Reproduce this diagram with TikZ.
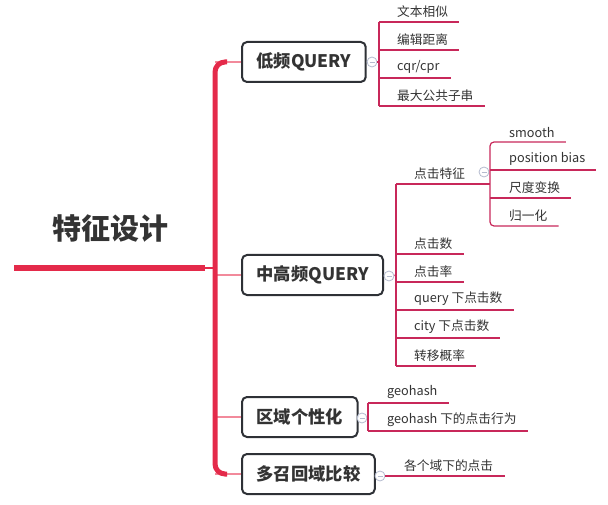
\documentclass[tikz,border=0pt]{standalone}
\usepackage{fontspec}
\setmainfont{Noto Sans CJK SC}
\usetikzlibrary{calc, positioning}

\definecolor{trunkred}{HTML}{E42A4A}
\definecolor{branchpink}{HTML}{F28A9B}
\definecolor{leafred}{HTML}{C8285A}
\definecolor{boxgray}{HTML}{2E3136}
\definecolor{foldgray}{HTML}{B4BBCE}
\definecolor{textgray}{HTML}{333333}

\tikzset{
  topic/.style={draw=boxgray, line width=2pt, rounded corners=5pt, fill=white,
    text=textgray, font=\bfseries\fontsize{17.3}{19}\selectfont,
    minimum height=40pt, inner xsep=14.5pt, anchor=west},
  leaf/.style={anchor=south west, inner xsep=0pt, inner ysep=4pt,
    text=textgray, font=\fontsize{12.7}{14}\selectfont},
  leafline/.style={draw=leafred, line width=1.2pt},
  branchline/.style={draw=branchpink, line width=2.5pt},
  foldline/.style={draw=foldgray, line width=0.8pt},
  fold/.style={circle, draw=foldgray, line width=0.8pt, fill=white,
    minimum size=10pt, inner sep=0pt,
    path picture={\draw[foldgray, line width=0.8pt]
      ([xshift=-2.5pt]path picture bounding box.center) --
      ([xshift=2.5pt]path picture bounding box.center);}}
}

\begin{document}
\begin{tikzpicture}[x=1pt, y=-1pt]
    \useasboundingbox (0,0) rectangle (608,505);

    % --- Root ---
    \node[text=textgray, font=\bfseries\fontsize{29}{32}\selectfont] (root) at (110,229) {特征设计};
    \coordinate (ul) at (14,268);
    \coordinate (ur) at (205,268);
    \coordinate (hub) at (215,268);

    % --- Topics ---
    \node[topic] (b1) at (241,62) {低频QUERY};
    \node[topic] (b2) at (241,275) {中高频QUERY};
    \node[topic] (b3) at (241,417) {区域个性化};
    \node[topic] (b4) at (241,474) {多召回域比较};

    % --- Trunk and branches ---
    \draw[branchline] (hub |- b1.west) -- (b1.west);
    \draw[branchline] (hub |- b2.west) -- (b2.west);
    \draw[branchline] (hub |- b3.west) -- (b3.west);
    \draw[branchline] (hub |- b4.west) -- (b4.west);
    \draw[trunkred, line width=5pt, rounded corners=10pt]
      ([xshift=-14pt]b1.west) -| (hub) |- ([xshift=-14pt]b4.west);
    \draw[trunkred, line width=6pt] (ul) -- (ur);
    \draw[trunkred, line width=1.5pt] (ur) -- (hub);

    % --- 低频QUERY ---
    \coordinate (v1) at (379,62);
    \node[fold] (f1) at (372,62) {};
    \draw[foldline] (b1.east) -- (f1);
    \draw[leafline] (f1) -- (v1);
    \node[leaf] (a1) at (397,22) {文本相似};
    \node[leaf] (a2) at (397,50) {编辑距离};
    \node[leaf] (a3) at (397,78) {cqr/cpr};
    \node[leaf] (a4) at (397,106) {最大公共子串};
    \draw[leafline] (v1 |- a1.south) -- (v1 |- a4.south);
    \draw[leafline] (v1 |- a1.south) -- ([xshift=11pt]a1.south east);
    \draw[leafline] (v1 |- a2.south) -- ([xshift=11pt]a2.south east);
    \draw[leafline] (v1 |- a3.south) -- ([xshift=11pt]a3.south east);
    \draw[leafline] (v1 |- a4.south) -- ([xshift=11pt]a4.south east);

    % --- 中高频QUERY ---
    \coordinate (v2) at (396,275);
    \node[fold] (f2) at (389,276) {};
    \draw[foldline] (b2.east) -- (f2);
    \draw[leafline] (f2) -- (v2);
    \node[leaf] (c0) at (414,184) {点击特征};
    \node[leaf] (c1) at (414,254) {点击数};
    \node[leaf] (c2) at (414,282) {点击率};
    \node[leaf] (c3) at (414,310) {query 下点击数};
    \node[leaf] (c4) at (414,338) {city 下点击数};
    \node[leaf] (c5) at (414,366) {转移概率};
    \draw[leafline] (v2 |- c0.south) -- (v2 |- c5.south);
    \draw[leafline] (v2 |- c1.south) -- ([xshift=11pt]c1.south east);
    \draw[leafline] (v2 |- c2.south) -- ([xshift=11pt]c2.south east);
    \draw[leafline] (v2 |- c3.south) -- ([xshift=11pt]c3.south east);
    \draw[leafline] (v2 |- c4.south) -- ([xshift=11pt]c4.south east);
    \draw[leafline] (v2 |- c5.south) -- ([xshift=11pt]c5.south east);

    % --- 点击特征 ---
    \coordinate (v3) at (490,184);
    \node[fold] (f3) at (484,172) {};
    \draw[leafline] (v2 |- c0.south) -- (v3);
    \node[leaf] (d1) at (509,142) {smooth};
    \node[leaf] (d2) at (509,170) {position bias};
    \node[leaf] (d3) at (509,198) {尺度变换};
    \node[leaf] (d4) at (509,226) {归一化};
    \draw[leafline, rounded corners=4pt] ([xshift=11pt]d1.south east) -- (v3 |- d1.south)
      -- (v3 |- d4.south) -- ([xshift=11pt]d4.south east);
    \draw[leafline] (v3 |- d2.south) -- ([xshift=11pt]d2.south east);
    \draw[leafline] (v3 |- d3.south) -- ([xshift=11pt]d3.south east);

    % --- 区域个性化 ---
    \coordinate (v4) at (368,417);
    \node[fold] (f4) at (362,418) {};
    \draw[foldline] (b3.east) -- (f4);
    \node[leaf] (e1) at (387,403) {geohash};
    \node[leaf] (e2) at (387,431) {geohash 下的点击行为};
    \draw[leafline] (v4 |- e1.south) -- (v4 |- e2.south);
    \draw[leafline] (v4 |- e1.south) -- ([xshift=11pt]e1.south east);
    \draw[leafline] (v4 |- e2.south) -- ([xshift=11pt]e2.south east);

    % --- 多召回域比较 ---
    \node[fold] (f5) at (380,476) {};
    \draw[foldline] (b4.east) -- (f5);
    \node[leaf] (g1) at (404,476) {各个域下的点击};
    \draw[leafline] (f5) -- ([xshift=12pt]g1.south east);
\end{tikzpicture}
\end{document}
